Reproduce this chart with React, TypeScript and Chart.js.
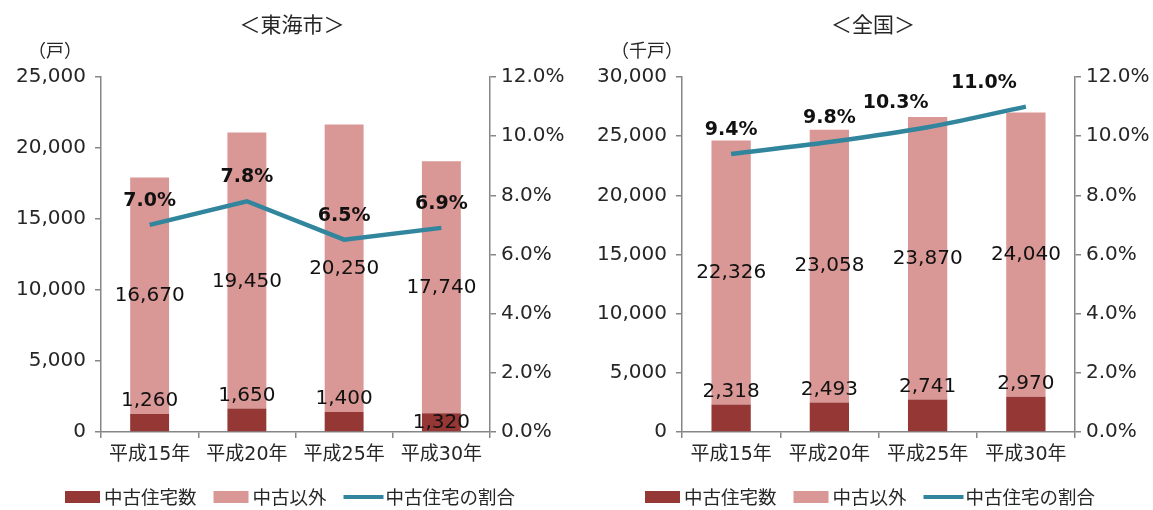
import React, { useEffect, useRef } from 'react';
import { Chart, registerables } from 'chart.js';
Chart.register(...registerables);

const categories = ['平成15年', '平成20年', '平成25年', '平成30年'];

const tokaiUsed = [1260, 1650, 1400, 1320];
const tokaiOther = [16670, 19450, 20250, 17740];
const tokaiRatio = [7.0, 7.8, 6.5, 6.9];

const zenkokuUsed = [2318, 2493, 2741, 2970];
const zenkokuOther = [22326, 23058, 23870, 24040];
const zenkokuRatio = [9.4, 9.8, 10.3, 11.0];

const legendLabels = ['中古住宅数', '中古以外', '中古住宅の割合'];

const DARK = '#953735';
const LIGHT = '#D99795';
const TEAL = '#31859C';
const AXIS = '#868686';
const TEXT = '#262626';
const NUMFONT = "'DejaVu Sans', 'Noto Sans CJK JP', sans-serif";
const JPFONT = "'Noto Sans CJK JP', sans-serif";

type Cfg = {
  title: string;
  unit: string;
  used: number[];
  other: number[];
  ratio: number[];
  yMax: number;
  width: number;
  leftW: number;
  rightW: number;
  tension: number;
  usedOffsets: number[];
  otherOffsets: number[];
  pctDx: number[];
  titleX: number;
  unitX: number;
  legendX: number;
};

const fmt = (v: number) => v.toLocaleString('en-US');

function makeChart(canvas: HTMLCanvasElement, c: Cfg) {
  const overlay = {
    id: 'overlay',
    afterDatasetsDraw(chart: any) {
      const ctx = chart.ctx as CanvasRenderingContext2D;
      ctx.save();
      ctx.fillStyle = '#111';
      ctx.textAlign = 'center';
      ctx.textBaseline = 'middle';
      ctx.font = `20px ${NUMFONT}`;
      const m0 = chart.getDatasetMeta(0);
      m0.data.forEach((el: any, i: number) => {
        ctx.fillText(fmt(c.used[i]), el.x, el.y - 13 + c.usedOffsets[i]);
      });
      const m1 = chart.getDatasetMeta(1);
      m1.data.forEach((el: any, i: number) => {
        ctx.fillText(fmt(c.other[i]), el.x, (el.y + el.base) / 2 + c.otherOffsets[i]);
      });
      ctx.font = `bold 19px ${NUMFONT}`;
      const m2 = chart.getDatasetMeta(2);
      m2.data.forEach((el: any, i: number) => {
        ctx.fillText(c.ratio[i].toFixed(1) + '%', el.x + c.pctDx[i], el.y - 24);
      });
      ctx.restore();
    },
    afterDraw(chart: any) {
      const ctx = chart.ctx as CanvasRenderingContext2D;
      ctx.save();
      ctx.fillStyle = TEXT;
      ctx.textAlign = 'center';
      ctx.textBaseline = 'middle';
      ctx.font = `21px ${JPFONT}`;
      ctx.fillText(c.title, c.titleX, 24);
      ctx.font = `18px ${JPFONT}`;
      ctx.fillText(c.unit, c.unitX, 50);
      // legend
      ctx.font = `18.5px ${JPFONT}`;
      ctx.textAlign = 'left';
      let x = c.legendX;
      const y = 497;
      const items = [
        { kind: 'box', color: DARK, label: legendLabels[0] },
        { kind: 'box', color: LIGHT, label: legendLabels[1] },
        { kind: 'line', color: TEAL, label: legendLabels[2] },
      ];
      items.forEach((it) => {
        if (it.kind === 'box') {
          ctx.fillStyle = it.color;
          ctx.fillRect(x, y - 6, 35, 12);
          x += 39;
        } else {
          ctx.strokeStyle = it.color;
          ctx.lineWidth = 4;
          ctx.beginPath();
          ctx.moveTo(x, y);
          ctx.lineTo(x + 40, y);
          ctx.stroke();
          x += 42;
        }
        ctx.fillStyle = TEXT;
        ctx.fillText(it.label, x, y);
        x += ctx.measureText(it.label).width + 17;
      });
      ctx.restore();
    },
  };

  return new Chart(canvas, {
    type: 'bar',
    data: {
      labels: categories,
      datasets: [
        {
          type: 'bar',
          label: legendLabels[0],
          data: c.used,
          backgroundColor: DARK,
          yAxisID: 'y',
          order: 2,
          barPercentage: 0.4,
          categoryPercentage: 1,
        },
        {
          type: 'bar',
          label: legendLabels[1],
          data: c.other,
          backgroundColor: LIGHT,
          yAxisID: 'y',
          order: 2,
          barPercentage: 0.4,
          categoryPercentage: 1,
        },
        {
          type: 'line',
          label: legendLabels[2],
          data: c.ratio,
          borderColor: TEAL,
          backgroundColor: TEAL,
          borderWidth: 4.5,
          pointRadius: 0,
          tension: c.tension,
          yAxisID: 'y1',
          order: 0,
        } as any,
      ],
    },
    options: {
      animation: false,
      responsive: false,
      maintainAspectRatio: false,
      layout: { padding: { top: 77, left: 0, right: 0, bottom: 0 } },
      plugins: {
        legend: { display: false },
        title: { display: false },
        tooltip: { enabled: false },
      },
      scales: {
        x: {
          stacked: true,
          afterFit: (s: any) => {
            s.height = 78;
          },
          border: { color: AXIS, width: 1.5 },
          grid: { drawOnChartArea: false, drawTicks: true, tickLength: 6, color: AXIS, lineWidth: 1.5, offset: true },
          ticks: { color: TEXT, font: { family: NUMFONT, size: 19 }, padding: 6 },
        },
        y: {
          stacked: true,
          position: 'left',
          min: 0,
          max: c.yMax,
          afterFit: (s: any) => {
            s.width = c.leftW;
          },
          border: { color: AXIS, width: 1.5 },
          grid: { drawOnChartArea: false, drawTicks: true, tickLength: 6, color: AXIS, lineWidth: 1.5 },
          ticks: {
            stepSize: 5000,
            color: TEXT,
            padding: 9,
            font: { family: NUMFONT, size: 20 },
            callback: (v: any) => fmt(Number(v)),
          },
        },
        y1: {
          position: 'right',
          min: 0,
          max: 12,
          afterFit: (s: any) => {
            s.width = c.rightW;
          },
          border: { color: AXIS, width: 1.5 },
          grid: { drawOnChartArea: false, drawTicks: true, tickLength: 6, color: AXIS, lineWidth: 1.5 },
          ticks: {
            stepSize: 2,
            color: TEXT,
            padding: 5,
            font: { family: NUMFONT, size: 20 },
            callback: (v: any) => Number(v).toFixed(1) + '%',
          },
        },
      },
    } as any,
    plugins: [overlay],
  });
}

const tokaiCfg: Cfg = {
  title: '＜東海市＞',
  unit: '（戸）',
  used: tokaiUsed,
  other: tokaiOther,
  ratio: tokaiRatio,
  yMax: 25000,
  width: 576,
  leftW: 101,
  rightW: 86,
  tension: 0,
  usedOffsets: [0, 0, 0, 23],
  otherOffsets: [0, 11, 0, 0],
  pctDx: [0, 0, 0, 0],
  titleX: 292,
  unitX: 55,
  legendX: 65,
};

const zenkokuCfg: Cfg = {
  title: '＜全国＞',
  unit: '（千戸）',
  used: zenkokuUsed,
  other: zenkokuOther,
  ratio: zenkokuRatio,
  yMax: 30000,
  width: 577,
  leftW: 106,
  rightW: 78,
  tension: 0.35,
  usedOffsets: [0, 0, 0, 0],
  otherOffsets: [0, 0, 0, 0],
  pctDx: [0, 0, -32, -42],
  titleX: 297,
  unitX: 71,
  legendX: 69,
};

function Panel({ cfg, left }: { cfg: Cfg; left: number }) {
  const ref = useRef<HTMLCanvasElement>(null);
  useEffect(() => {
    if (!ref.current) return;
    const ch = makeChart(ref.current, cfg);
    return () => ch.destroy();
  }, [cfg]);
  return (
    <div style={{ position: 'absolute', left, top: 0, width: cfg.width, height: 510 }}>
      <canvas ref={ref} width={cfg.width} height={510} style={{ width: cfg.width, height: 510, display: 'block' }} />
    </div>
  );
}

export default function App() {
  return (
    <div style={{ position: 'absolute', left: 0, top: 0, width: 1153, height: 510, background: '#fff', overflow: 'hidden' }}>
      <Panel cfg={tokaiCfg} left={0} />
      <Panel cfg={zenkokuCfg} left={576} />
    </div>
  );
}
